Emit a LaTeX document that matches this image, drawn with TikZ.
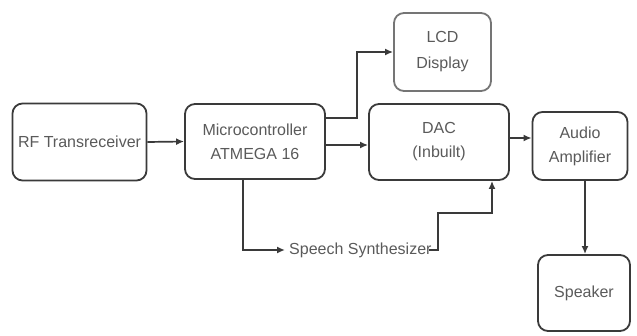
\documentclass[tikz,border=0pt]{standalone}
\usepackage{fontspec}
\setmainfont{Liberation Sans}
\usetikzlibrary{arrows.meta,calc}
\definecolor{boxline}{HTML}{3A3A3A}
\definecolor{txt}{HTML}{5A5A5A}
\begin{document}
\begin{tikzpicture}[x=1pt,y=-1pt,
  blk/.style={draw=boxline,line width=1.8pt,rounded corners=10pt,align=center,
    text=txt,font=\fontsize{16}{24}\selectfont,inner sep=0pt},
  conn/.style={draw=boxline,line width=1.7pt,-{Latex[length=8pt,width=7pt]}}]
\useasboundingbox (0,0) rectangle (637,336);
\node[blk,minimum width=134pt,minimum height=77pt] (rf) at (79.5,142) {RF Transreceiver};
\node[blk,minimum width=140pt,minimum height=75pt] (mc) at (255,141.5) {Microcontroller\\ATMEGA 16};
\node[blk,draw=boxline!70,minimum width=97pt,minimum height=78pt,font=\fontsize{16}{26}\selectfont] (lcd) at (442.5,52) {LCD\\Display};
\node[blk,minimum width=140pt,minimum height=76pt] (dac) at (439,142) {DAC\\(Inbuilt)};
\node[blk,minimum width=95pt,minimum height=68pt] (amp) at (580,146) {Audio\\Amplifier};
\node[blk,minimum width=92pt,minimum height=76pt] (spk) at (584,293) {Speaker};
\node[text=txt,font=\fontsize{16}{18}\selectfont,inner sep=0pt,anchor=west] (ss) at (289,250) {Speech Synthesizer};
\coordinate (c1) at (357,118);
\coordinate (c2) at (438,250);
\coordinate (c3) at (438,213);
\draw[conn] (rf.east) -- (mc.west);
\draw[conn] ($(mc.east)+(0,-23.5)$) -- (c1) |- (lcd.west);
\draw[conn] ($(mc.east)+(0,3.5)$) -- ($(dac.west)+(0,3)$);
\draw[conn] ($(dac.east)+(0,-4)$) -- ($(amp.west)+(0,-8)$);
\draw[conn] (mc.south -| 243,0) |- ($(ss.west)+(-4,0)$);
\draw[conn] ($(ss.east)+(-3,0)$) -- (c2) -- (c3) -| (dac.south -| 492,0);
\draw[conn] (amp.south -| 585,0) -- (spk.north -| 585,0);
\end{tikzpicture}
\end{document}
